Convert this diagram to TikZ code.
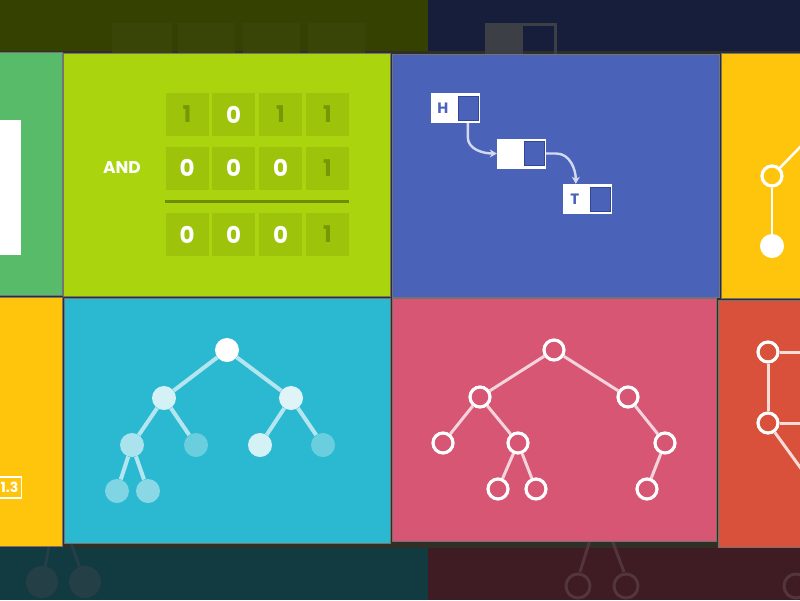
\documentclass[tikz,border=0pt]{standalone}
\usepackage{fontspec}
\setmainfont{Poppins}
\usetikzlibrary{arrows.meta}
\definecolor{cOlive}{HTML}{354101}
\definecolor{cOliveG}{HTML}{394507}
\definecolor{cNavy}{HTML}{171E3B}
\definecolor{cNavyG}{HTML}{3D3F46}
\definecolor{cTeal}{HTML}{123A41}
\definecolor{cTealG}{HTML}{243F45}
\definecolor{cMaroon}{HTML}{3F1B24}
\definecolor{cMaroonG}{HTML}{52363C}
\definecolor{cGap}{HTML}{2F2F26}
\definecolor{cGreen}{HTML}{57BB69}
\definecolor{cLime}{HTML}{A9D40E}
\definecolor{cCell}{HTML}{9DC40A}
\definecolor{cOne}{HTML}{769806}
\definecolor{cRule}{HTML}{6F8C05}
\definecolor{cBlue}{HTML}{4A63B9}
\definecolor{cBlueD}{HTML}{2F4699}
\definecolor{cArrow}{HTML}{D3DAEF}
\definecolor{cYellow}{HTML}{FFC40C}
\definecolor{cCyan}{HTML}{2BB9D2}
\definecolor{cPink}{HTML}{D65674}
\definecolor{cRed}{HTML}{D9503B}
\begin{document}
\begin{tikzpicture}[x=1pt,y=-1pt,
  panel/.style={draw=black!55,line width=0.6pt},
  cell/.style={fill=cCell,minimum width=43pt,minimum height=43pt,inner sep=0pt,
    font=\fontsize{23}{23}\selectfont\bfseries,text=white},
  onecell/.style={cell,text=cOne},
  llbox/.style={fill=white,minimum width=49pt,minimum height=30pt,inner sep=0pt},
  ptr/.style={fill=cBlue,draw=cBlueD,line width=0.6pt,minimum width=20pt,minimum height=24pt,inner sep=0pt},
  lltext/.style={text=cBlue,font=\fontsize{15}{15}\selectfont\bfseries,inner sep=0pt},
  llarrow/.style={draw=cArrow,line width=2.4pt,-{Stealth[length=7pt,width=8pt]}},
  cdot/.style={circle,fill=white,minimum size=24pt,inner sep=0pt},
  cedge/.style={draw=white,draw opacity=0.65,line width=4pt},
  ring/.style={circle,draw=white,line width=3.2pt,minimum size=20pt,inner sep=0pt},
  pedge/.style={draw=white,draw opacity=0.75,line width=3pt},
  ghost/.style={circle,minimum size=32pt,inner sep=0pt}]
\useasboundingbox (0,0) rectangle (800,600);
\clip (0,0) rectangle (800,600);
% background strips
\fill[cOlive] (0,0) rectangle (428,60);
\fill[cNavy] (428,0) rectangle (800,60);
\fill[cTeal] (0,540) rectangle (428,600);
\fill[cMaroon] (428,540) rectangle (800,600);
\fill[cGap] (0,51) rectangle (800,548);
% ghost shapes (top)
\fill[cOliveG] (112,23) rectangle (172,60);
\fill[cOliveG] (178,23) rectangle (235,60);
\fill[cOliveG] (243,23) rectangle (300,60);
\fill[cOliveG] (308,23) rectangle (365,60);
\fill[cNavyG] (485,23) rectangle (523,60);
\draw[cNavyG,line width=3pt] (523,24.5) -- (555.5,24.5) -- (555.5,60);
% ghost shapes (bottom)
\draw[cTealG,line width=3pt] (50,540) -- (45,568) (70,540) -- (80,568);
\node[ghost,fill=cTealG] (g1) at (42,582) {};
\node[ghost,fill=cTealG] (g2) at (85,582) {};
\draw[cMaroonG,line width=3pt] (590,540) -- (580,572) (612,540) -- (624,572);
\node[ghost,draw=cMaroonG,line width=3pt,minimum size=24pt] (g3) at (578,586) {};
\node[ghost,draw=cMaroonG,line width=3pt,minimum size=24pt] (g4) at (626,586) {};
\node[ghost,draw=cMaroonG,line width=3pt,minimum size=24pt] (g5) at (796,586) {};
% panels
\fill[cGreen,panel] (-2,52) rectangle (62,295);
\fill[cLime,panel] (63,53) rectangle (390,296);
\fill[cBlue,panel] (392,54) rectangle (719,297);
\fill[cYellow,panel] (721,53) rectangle (802,298);
\fill[cYellow,panel] (-2,297) rectangle (62,546);
\fill[cCyan,panel] (64,298) rectangle (390,543);
\fill[cPink,panel] (392,298) rectangle (716,541);
\fill[cRed,panel] (718,300) rectangle (802,547);
% green panel content
\fill[white] (-2,120) rectangle (21,255);
% yellow left content
\node[draw=white,line width=1.5pt,text=white,font=\fontsize{14}{14}\selectfont\bfseries,
  minimum height=21pt,inner xsep=3pt,anchor=east] (lbl) at (22,487.5) {1.3};
% AND panel
\node[text=white,font=\fontsize{17}{17}\selectfont\bfseries] (and) at (122,168) {AND};
\node[onecell] (a1) at (187,114.5) {1};
\node[cell] (a2) at (233.5,114.5) {0};
\node[onecell] (a3) at (280.5,114.5) {1};
\node[onecell] (a4) at (327.5,114.5) {1};
\node[cell] (b1) at (187,168) {0};
\node[cell] (b2) at (233.5,168) {0};
\node[cell] (b3) at (280.5,168) {0};
\node[onecell] (b4) at (327.5,168) {1};
\node[cell] (r1) at (187,234.5) {0};
\node[cell] (r2) at (233.5,234.5) {0};
\node[cell] (r3) at (280.5,234.5) {0};
\node[onecell] (r4) at (327.5,234.5) {1};
\draw[cRule,line width=3pt] (b1.west |- 0,201) -- (b4.east |- 0,201);
% linked list
\node[llbox] (h) at (455.5,108) {};
\node[ptr] (hp) at ([xshift=-12pt]h.east) {};
\node[lltext] (hl) at ([xshift=12pt]h.west) {H};
\node[llbox] (n2) at (521.5,153.5) {};
\node[ptr] (n2p) at ([xshift=-12pt]n2.east) {};
\node[llbox] (t) at (587.5,199) {};
\node[ptr] (tp) at ([xshift=-12pt]t.east) {};
\node[lltext] (tl) at ([xshift=12pt]t.west) {T};
\draw[llarrow] ([xshift=37pt]h.south west) -- ++(0,14) .. controls +(0,12) and +(-14,0) .. (n2.west);
\draw[llarrow] (n2.east) -- ++(10,0) .. controls +(14,0) and +(0,-14) .. ([xshift=13pt]t.north west);
% yellow right content
\node[ring,fill=cYellow] (y0) at (772,176) {};
\node[cdot] (y1) at (772,246) {};
\coordinate (ye) at (805,142);
\draw[white,line width=2.5pt] (y0) -- (y1);
\draw[white,line width=2.5pt] (y0) -- (ye);
% cyan tree
\node[cdot] (c0) at (227,350) {};
\node[cdot,fill opacity=0.8] (c1) at (164,398) {};
\node[cdot,fill opacity=0.85] (c2) at (291,398) {};
\node[cdot,fill opacity=0.6] (c3) at (132,445) {};
\node[cdot,fill opacity=0.3] (c4) at (196,445) {};
\node[cdot,fill opacity=0.8] (c5) at (260,445) {};
\node[cdot,fill opacity=0.3] (c6) at (323,445) {};
\node[cdot,fill opacity=0.4] (c7) at (117,491) {};
\node[cdot,fill opacity=0.45] (c8) at (148,491) {};
\draw[cedge] (c0) -- (c1);
\draw[cedge] (c0) -- (c2);
\draw[cedge] (c1) -- (c3);
\draw[cedge] (c1) -- (c4);
\draw[cedge] (c2) -- (c5);
\draw[cedge] (c2) -- (c6);
\draw[cedge] (c3) -- (c7);
\draw[cedge] (c3) -- (c8);
% pink tree
\node[ring,fill=cPink] (p0) at (554,350) {};
\node[ring,fill=cPink] (p1) at (480,397) {};
\node[ring,fill=cPink] (p2) at (628,397) {};
\node[ring,fill=cPink] (p3) at (443,443) {};
\node[ring,fill=cPink] (p4) at (518,443) {};
\node[ring,fill=cPink] (p5) at (665,443) {};
\node[ring,fill=cPink] (p6) at (498,489) {};
\node[ring,fill=cPink] (p7) at (536,489) {};
\node[ring,fill=cPink] (p8) at (647,489) {};
\draw[pedge] (p0) -- (p1);
\draw[pedge] (p0) -- (p2);
\draw[pedge] (p1) -- (p3);
\draw[pedge] (p1) -- (p4);
\draw[pedge] (p2) -- (p5);
\draw[pedge] (p4) -- (p6);
\draw[pedge] (p4) -- (p7);
\draw[pedge] (p5) -- (p8);
% red panel content
\node[ring,fill=cRed] (q0) at (768,352) {};
\node[ring,fill=cRed] (q1) at (768,423) {};
\coordinate (qa) at (805,352);
\coordinate (qb) at (805,423);
\coordinate (qc) at (805,474);
\draw[pedge,draw opacity=0.8] (q0) -- (q1);
\draw[pedge,draw opacity=0.8] (q0) -- (qa);
\draw[pedge,draw opacity=0.8] (q1) -- (qb);
\draw[pedge,draw opacity=0.8] (q1) -- (qc);
\end{tikzpicture}
\end{document}
